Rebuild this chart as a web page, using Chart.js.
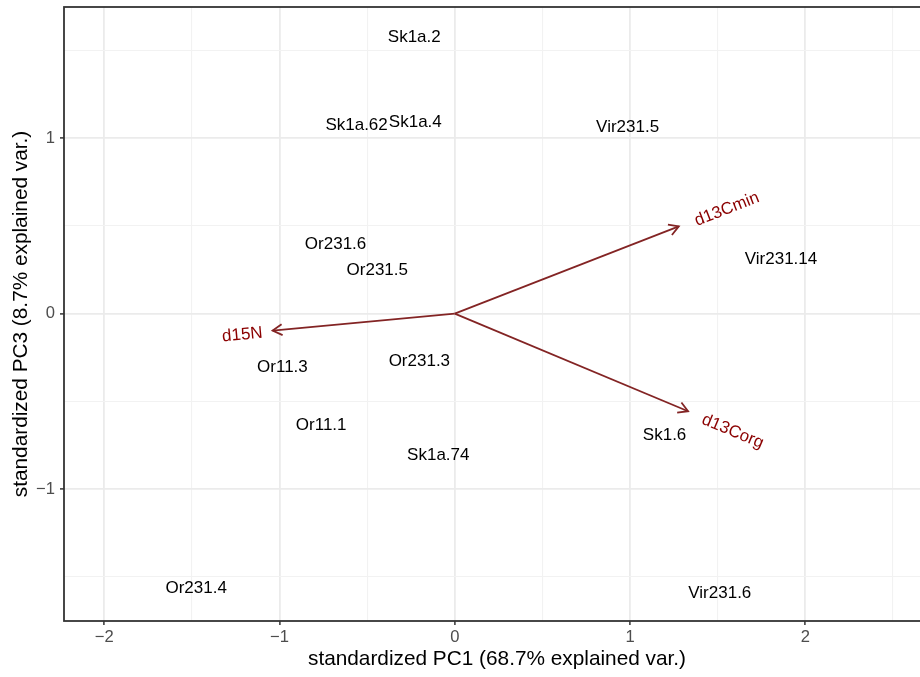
<!DOCTYPE html>
<html>
<head>
<meta charset="utf-8">
<script src="https://cdn.jsdelivr.net/npm/chart.js@4.4.1/dist/chart.umd.min.js"></script>
<style>
    html, body { margin: 0; padding: 0; background: #fff; overflow: hidden; width: 920px; height: 677px; }
    canvas { display: block; }
</style>
</head>
<body>
<canvas id="biplot" width="930" height="677"></canvas>
<script>
// ---------------------------------------------------------------------------
// Data
// ---------------------------------------------------------------------------

const sampleNames = ['Sk1a.2', 'Sk1a.62', 'Sk1a.4', 'Vir231.5', 'Or231.6', 'Or231.5', 'Vir231.14',
    'Or11.3', 'Or231.3', 'Or11.1', 'Sk1a.74', 'Sk1.6', 'Or231.4', 'Vir231.6'];
const samplePC1 = [-0.231, -0.560, -0.225, 0.986, -0.680, -0.442, 1.861,
    -0.983, -0.202, -0.762, -0.094, 1.197, -1.475, 1.512];
const samplePC3 = [1.584, 1.080, 1.099, 1.072, 0.401, 0.258, 0.320,
    -0.297, -0.264, -0.631, -0.801, -0.687, -1.556, -1.587];

const varNames = ['d13Cmin', 'd15N', 'd13Corg'];
const varPC1 = [1.278, -1.039, 1.331];
const varPC3 = [0.497, -0.097, -0.557];

const xTickValues = [-2, -1.5, -1, -0.5, 0, 0.5, 1, 1.5, 2, 2.5];
const yTickValues = [-1.5, -1, -0.5, 0, 0.5, 1, 1.5];

const xTitle = 'standardized PC1 (68.7% explained var.)';
const yTitle = 'standardized PC3 (8.7% explained var.)';

// ---------------------------------------------------------------------------
// Helpers
// ---------------------------------------------------------------------------

const fontFamily = '"Liberation Sans", Arial, Helvetica, sans-serif';
const varAdjust = 1.5;
const textNudge = 1.5; // canvas 'middle' sits a little above the cap centre

const isMajor = (v) => Math.abs(v - Math.round(v)) < 1e-9;
const fmtTick = (v) => (isMajor(v) ? String(Math.round(v)).replace('-', '\u2212') : '');

const biplotLayer = {
    id: 'biplotLayer',
    afterDatasetsDraw(chart) {
        const ctx = chart.ctx;
        const area = chart.chartArea;
        const ox = chart.scales.x.getPixelForValue(0);
        const oy = chart.scales.y.getPixelForValue(0);

        ctx.save();
        ctx.beginPath();
        ctx.rect(area.left, area.top, area.right - area.left, area.bottom - area.top);
        ctx.clip();

        // sample labels
        ctx.font = '17px ' + fontFamily;
        ctx.fillStyle = '#000';
        ctx.textAlign = 'center';
        ctx.textBaseline = 'middle';
        chart.getDatasetMeta(0).data.forEach((pt, i) => {
            ctx.fillText(sampleNames[i], pt.x, pt.y + textNudge);
        });

        // variable arrows
        chart.getDatasetMeta(1).data.forEach((pt, i) => {
            ctx.strokeStyle = '#832424';
            ctx.lineWidth = 1.8;
            ctx.lineCap = 'butt';
            ctx.beginPath();
            ctx.moveTo(ox, oy);
            ctx.lineTo(pt.x, pt.y);
            ctx.stroke();

            const a = Math.atan2(pt.y - oy, pt.x - ox);
            const head = 11;
            ctx.beginPath();
            ctx.moveTo(pt.x - head * Math.cos(a - Math.PI / 6), pt.y - head * Math.sin(a - Math.PI / 6));
            ctx.lineTo(pt.x, pt.y);
            ctx.lineTo(pt.x - head * Math.cos(a + Math.PI / 6), pt.y - head * Math.sin(a + Math.PI / 6));
            ctx.stroke();

            const angle = Math.atan(varPC3[i] / varPC1[i]);
            const hjust = (1 - varAdjust * Math.sign(varPC1[i])) / 2;
            ctx.save();
            ctx.translate(pt.x, pt.y);
            ctx.rotate(-angle);
            ctx.fillStyle = '#8B0000';
            ctx.textAlign = 'left';
            const w = ctx.measureText(varNames[i]).width;
            ctx.fillText(varNames[i], -hjust * w, textNudge);
            ctx.restore();
        });
        ctx.restore();

        // panel border
        ctx.save();
        ctx.strokeStyle = '#333333';
        ctx.lineWidth = 1.8;
        ctx.strokeRect(area.left, area.top, area.right - area.left, area.bottom - area.top);
        ctx.restore();
    }
};

// ---------------------------------------------------------------------------
// Chart
// ---------------------------------------------------------------------------

Chart.defaults.animation = false;
Chart.defaults.font.family = fontFamily;

const gridColor = (c) => (isMajor(c.tick.value) ? '#ebebeb' : '#f2f2f2');
const gridWidth = (c) => (isMajor(c.tick.value) ? 1.8 : 1.1);
const tickColor = (c) => (isMajor(c.tick.value) ? '#333333' : 'rgba(0,0,0,0)');

new Chart(document.getElementById('biplot'), {
    type: 'scatter',
    data: {
        datasets: [
            {
                label: 'samples',
                data: samplePC1.map((v, i) => ({ x: v, y: samplePC3[i] })),
                pointRadius: 0,
                pointHoverRadius: 0
            },
            {
                label: 'variables',
                data: varPC1.map((v, i) => ({ x: v, y: varPC3[i] })),
                pointRadius: 0,
                pointHoverRadius: 0
            }
        ]
    },
    options: {
        responsive: false,
        events: [],
        layout: { padding: { top: 7, right: 0, bottom: 0, left: 0 } },
        plugins: {
            legend: { display: false },
            tooltip: { enabled: false }
        },
        scales: {
            x: {
                type: 'linear',
                min: -2.229,
                max: 2.711,
                afterBuildTicks: (scale) => { scale.ticks = xTickValues.map((v) => ({ value: v })); },
                afterFit: (scale) => {
                    scale.height = 56;
                    scale.paddingLeft = 0;
                    scale.paddingRight = 0;
                },
                border: { display: false },
                grid: { color: gridColor, lineWidth: gridWidth, tickColor: tickColor, tickLength: 4, tickWidth: 1.5 },
                ticks: { autoSkip: false, maxRotation: 0, padding: 2, color: '#4d4d4d', font: { size: 16.6 }, callback: fmtTick },
                title: { display: true, text: xTitle, color: '#000', font: { size: 20.8 }, padding: { top: 0, bottom: 5 } }
            },
            y: {
                type: 'linear',
                min: -1.753,
                max: 1.748,
                afterBuildTicks: (scale) => { scale.ticks = yTickValues.map((v) => ({ value: v })); },
                afterFit: (scale) => {
                    scale.width = 64;
                    scale.paddingTop = 0;
                    scale.paddingBottom = 0;
                },
                border: { display: false },
                grid: { color: gridColor, lineWidth: gridWidth, tickColor: tickColor, tickLength: 4, tickWidth: 1.5 },
                ticks: { autoSkip: false, padding: 5, color: '#4d4d4d', font: { size: 16.6 }, callback: fmtTick },
                title: { display: true, text: yTitle, color: '#000', font: { size: 20.8 }, padding: { top: 9, bottom: 0 } }
            }
        }
    },
    plugins: [biplotLayer]
});
</script>
</body>
</html>
